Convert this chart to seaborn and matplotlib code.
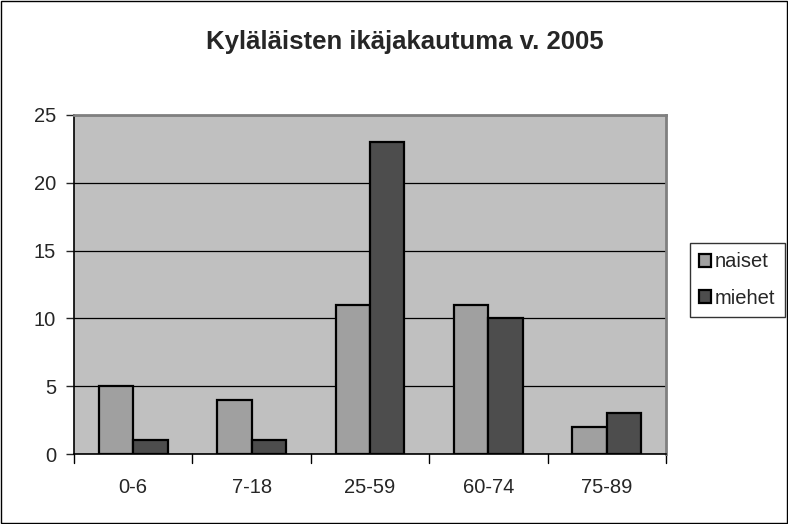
import matplotlib
matplotlib.use("Agg")
import matplotlib.pyplot as plt
import seaborn as sns
import pandas as pd
from matplotlib.patches import Rectangle

categories = ["0-6", "7-18", "25-59", "60-74", "75-89"]
naiset = [5, 4, 11, 11, 2]
miehet = [1, 1, 23, 10, 3]
series_names = ["naiset", "miehet"]
yticks = [0, 5, 10, 15, 20, 25]

df = pd.DataFrame({
    "ika": categories * 2,
    "arvo": naiset + miehet,
    "sarja": [series_names[0]] * len(categories) + [series_names[1]] * len(categories),
})

sns.set_style("white")
plt.rcParams['font.family'] = ['Liberation Sans', 'DejaVu Sans']

fig = plt.figure(figsize=(7.88, 5.24), dpi=100)
ax = fig.add_axes([74/788, 1-454/524, (666-74)/788, (454-115)/524])
ax.set_facecolor("#C0C0C0")

sns.barplot(data=df, x="ika", y="arvo", hue="sarja", order=categories,
            hue_order=series_names, palette=["#A0A0A0", "#4D4D4D"],
            width=0.58, edgecolor="black", linewidth=1.6, saturation=1,
            ax=ax, zorder=3)

ax.set_ylim(0, 25)
ax.set_xlim(-0.5, len(categories) - 0.5)
ax.set_yticks(yticks)
ax.set_yticklabels([str(v) for v in yticks], fontsize=14.5)
ax.yaxis.grid(True, color="black", linewidth=0.9, zorder=0)
ax.set_axisbelow(True)
ax.set_xticks(range(len(categories)))
ax.set_xticklabels(categories, fontsize=14.5)
ax.tick_params(axis="x", length=0, pad=17)
ax.tick_params(axis="y", left=True, length=6, width=1, direction="out", pad=7)
# category boundary ticks
for b in [i - 0.5 for i in range(len(categories) + 1)]:
    ax.plot([b, b], [0, -0.028], transform=ax.get_xaxis_transform(), color="black",
            lw=1, clip_on=False)
ax.set_xlabel("")
ax.set_ylabel("")

for s in ["top", "right"]:
    ax.spines[s].set_color("#808080")
    ax.spines[s].set_linewidth(2)
for s in ["left", "bottom"]:
    ax.spines[s].set_color("black")
    ax.spines[s].set_linewidth(1.2)

fig.text(405/788, 1-42/524, "Kyläläisten ikäjakautuma v. 2005", ha="center", va="center",
         fontsize=18.5, fontweight="bold")

leg = ax.legend(loc="center left", bbox_to_anchor=(690/788, 1-280/524),
                bbox_transform=fig.transFigure, frameon=True, fontsize=14.5,
                handlelength=0.6, handleheight=0.6, handletextpad=0.2,
                borderpad=0.45, labelspacing=0.85, fancybox=False, borderaxespad=0)
leg.get_frame().set_edgecolor("black")
leg.get_frame().set_linewidth(1)
for h in leg.legend_handles:
    h.set_edgecolor("black")
    h.set_linewidth(1.6)

fig.patches.append(Rectangle((1/788, 1/524), 786/788, 522/524, transform=fig.transFigure,
                             fill=False, edgecolor="black", linewidth=1))

fig.savefig("out.png", dpi=100)
